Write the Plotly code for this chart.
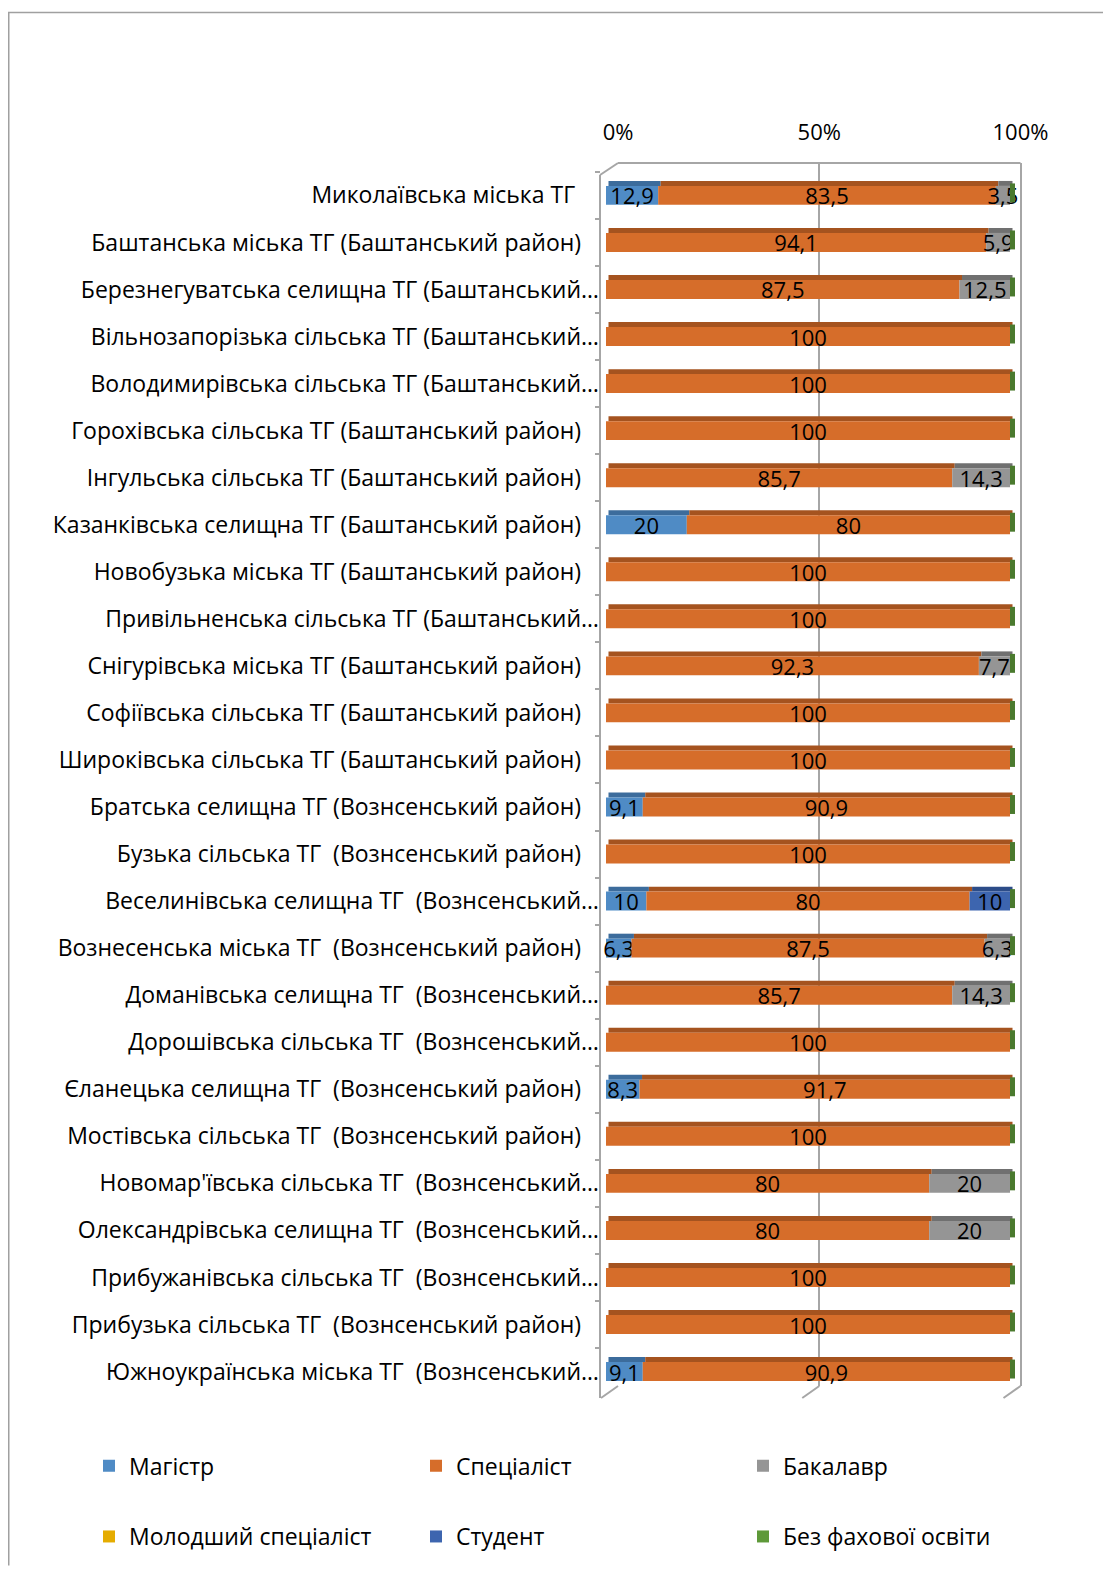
import plotly.graph_objects as go

NB = "\u00a0"
categories = [
    "Миколаївська міська ТГ" + NB * 4,
    "Баштанська міська ТГ (Баштанський район)" + NB * 3,
    "Березнегуватська селищна ТГ (Баштанський…",
    "Вільнозапорізька сільська ТГ (Баштанський…",
    "Володимирівська сільська ТГ (Баштанський…",
    "Горохівська сільська ТГ (Баштанський район)" + NB * 3,
    "Інгульська сільська ТГ (Баштанський район)" + NB * 3,
    "Казанківська селищна ТГ (Баштанський район)" + NB * 3,
    "Новобузька міська ТГ (Баштанський район)" + NB * 3,
    "Привільненська сільська ТГ (Баштанський…",
    "Снігурівська міська ТГ (Баштанський район)" + NB * 3,
    "Софіївська сільська ТГ (Баштанський район)" + NB * 3,
    "Широківська сільська ТГ (Баштанський район)" + NB * 3,
    "Братська селищна ТГ (Вознсенський район)" + NB * 3,
    "Бузька сільська ТГ  (Вознсенський район)" + NB * 3,
    "Веселинівська селищна ТГ  (Вознсенський…",
    "Вознесенська міська ТГ  (Вознсенський район)" + NB * 3,
    "Доманівська селищна ТГ  (Вознсенський…",
    "Дорошівська сільська ТГ  (Вознсенський…",
    "Єланецька селищна ТГ  (Вознсенський район)" + NB * 3,
    "Мостівська сільська ТГ  (Вознсенський район)" + NB * 3,
    "Новомар'ївська сільська ТГ  (Вознсенський…",
    "Олександрівська селищна ТГ  (Вознсенський…",
    "Прибужанівська сільська ТГ  (Вознсенський…",
    "Прибузька сільська ТГ  (Вознсенський район)" + NB * 3,
    "Южноукраїнська міська ТГ  (Вознсенський…",
]

magistr    = [12.9, 0, 0, 0, 0, 0, 0, 20, 0, 0, 0, 0, 0, 9.1, 0, 10, 6.3, 0, 0, 8.3, 0, 0, 0, 0, 0, 9.1]
specialist = [83.5, 94.1, 87.5, 100, 100, 100, 85.7, 80, 100, 100, 92.3, 100, 100, 90.9, 100, 80, 87.5, 85.7, 100, 91.7, 100, 80, 80, 100, 100, 90.9]
bakalavr   = [3.5, 5.9, 12.5, 0, 0, 0, 14.3, 0, 0, 0, 7.7, 0, 0, 0, 0, 0, 6.3, 14.3, 0, 0, 0, 20, 20, 0, 0, 0]
molodshyi  = [0] * 26
student    = [0, 0, 0, 0, 0, 0, 0, 0, 0, 0, 0, 0, 0, 0, 0, 10, 0, 0, 0, 0, 0, 0, 0, 0, 0, 0]
bez_osvity = [0] * 26

tick_vals = [0, 50, 100]
tick_text = ["0%", "50%", "100%"]

series = [
    ("Магістр", magistr, "#4F8BC5", "#3C6C9C"),
    ("Спеціаліст", specialist, "#D66D2A", "#A5531F"),
    ("Бакалавр", bakalavr, "#959595", "#707070"),
    ("Молодший спеціаліст", molodshyi, "#E5AC00", "#B08400"),
    ("Студент", student, "#3D65AF", "#2C4C88"),
    ("Без фахової освіти", bez_osvity, "#5E9939", "#4A7A2E"),
]

FONT = "Open Sans"
OFF = 8  # page offset of the figure div
W_FIG, H_FIG = 1111 - OFF, 1570 - OFF
# plot area in page pixels
L, R, T, B = 590, 1026, 163, 1390
PW, PH = R - L, B - T


def fx(px):
    return (px - L) / PW


def fy(py):
    return (B - py) / PH


CENTER0, STEP = 195.5, 47.2
y_range = [(B - CENTER0) / STEP, (T - CENTER0) / STEP]
FRONT_W = 19 / STEP
TOP_W = 5 / STEP
FRONT0, FRONT100 = 606, 1010
PX_PER_PCT = (FRONT100 - FRONT0) / 100
X2_MAX = (R - FRONT0) / PX_PER_PCT
DEPTH = 5 / PX_PER_PCT  # percent units (3D depth)
BACK0, BACK100 = 618, 1020.5
X1_MAX = 100 * (R - BACK0) / (BACK100 - BACK0)

n = len(categories)
totals = [sum(s[1][i] for s in series) for i in range(n)]


def fmt(v):
    if v == 0:
        return ""
    if float(v).is_integer():
        return str(int(v))
    return str(v).replace(".", ",")


fig = go.Figure()

# invisible trace to create the back-plane (grid) subplot
fig.add_trace(go.Scatter(x=[0, 100], y=[categories[0], categories[0]], xaxis="x", yaxis="y",
                         mode="markers", marker=dict(opacity=0), showlegend=False, hoverinfo="skip"))

cum = [0.0] * n
for idx, (name, vals, col, topcol) in enumerate(series):
    norm = [vals[i] / totals[i] * 100 for i in range(n)]
    base = cum[:]
    # top face
    fig.add_trace(go.Bar(
        y=categories, x=norm, base=[b + DEPTH / 2 for b in base], orientation="h",
        xaxis="x2", yaxis="y", width=TOP_W, offset=-FRONT_W / 2 - TOP_W,
        marker=dict(color=topcol, line=dict(width=0)), showlegend=False, hoverinfo="skip",
    ))
    # front face
    fig.add_trace(go.Bar(
        y=categories, x=norm, base=base, orientation="h", name=name,
        xaxis="x2", yaxis="y", width=FRONT_W, offset=-FRONT_W / 2,
        marker=dict(color=col, line=dict(width=0)),
        text=[fmt(v) for v in vals], textposition="inside", insidetextanchor="middle", textangle=0,
        textfont=dict(family=FONT, size=22, color="black"), constraintext="none",
        cliponaxis=False, hoverinfo="skip",
        legend="legend" if idx < 3 else "legend2",
    ))
    cum = [cum[i] + norm[i] for i in range(n)]

# right side face of the last series (3D end cap)
last_name, _, last_col, last_top = series[-1]
fig.add_trace(go.Bar(
    y=categories, x=[DEPTH] * n, base=cum, orientation="h",
    xaxis="x2", yaxis="y", width=FRONT_W, offset=-FRONT_W / 2 - TOP_W / 2,
    marker=dict(color=last_top, line=dict(width=0)), showlegend=False, hoverinfo="skip",
))

GRID = "#A6A6A6"
shapes = []
# outer chart border
shapes.append(dict(type="line", xref="paper", yref="paper", x0=fx(8), x1=fx(1111), y0=fy(12), y1=fy(12),
                   line=dict(color="#A0A0A0", width=1.5)))
shapes.append(dict(type="line", xref="paper", yref="paper", x0=fx(8.75), x1=fx(8.75), y0=fy(12), y1=fy(1570),
                   line=dict(color="#A0A0A0", width=1.5)))
# top back edge
shapes.append(dict(type="line", xref="paper", yref="paper", x0=fx(BACK0), x1=fx(BACK100), y0=1, y1=1,
                   line=dict(color=GRID, width=2)))
# left wall
shapes.append(dict(type="line", xref="paper", yref="paper", x0=fx(600), x1=fx(600), y0=fy(175), y1=fy(1402),
                   line=dict(color=GRID, width=2)))
shapes.append(dict(type="line", xref="paper", yref="paper", x0=fx(600), x1=fx(BACK0), y0=fy(175), y1=1,
                   line=dict(color=GRID, width=2)))
# floor diagonals at gridlines
for v in tick_vals:
    xp = fx(BACK0 + v / 100 * (BACK100 - BACK0))
    shapes.append(dict(type="line", xref="paper", yref="paper", x0=xp, x1=xp - 17 / PW, y0=0, y1=fy(1402),
                       line=dict(color=GRID, width=2)))

fig.update_layout(
    width=W_FIG, height=H_FIG,
    margin=dict(l=L - OFF, r=W_FIG - (R - OFF), t=T - OFF, b=H_FIG - (B - OFF)),
    paper_bgcolor="white", plot_bgcolor="rgba(0,0,0,0)",
    barmode="overlay",
    font=dict(family=FONT, size=22, color="black"),
    uniformtext=dict(minsize=22, mode="show"),
    shapes=shapes,
    xaxis=dict(domain=[fx(BACK0), 1.0], range=[0, X1_MAX], side="top", anchor="y",
               tickvals=tick_vals, ticktext=tick_text, showgrid=True, gridcolor=GRID, gridwidth=2,
               zeroline=False, showline=False, ticks="",
               tickfont=dict(family=FONT, size=22, color="black"), ticklabelstandoff=18, fixedrange=True),
    xaxis2=dict(domain=[fx(FRONT0), 1.0], range=[0, X2_MAX], anchor="y", visible=False, fixedrange=True),
    yaxis=dict(type="category", categoryorder="array", categoryarray=categories, range=y_range,
               anchor="free", position=fx(600), showline=False, showgrid=False, zeroline=False,
               ticks="outside", ticklen=5, tickcolor=GRID, tickwidth=2, tickson="boundaries",
               tickfont=dict(family=FONT, size=23, color="black"), ticklabelstandoff=1, fixedrange=True),
    legend=dict(orientation="h", x=fx(89), xanchor="left", y=fy(1470), yanchor="middle",
                entrywidth=282, entrywidthmode="pixels", font=dict(family=FONT, size=23, color="black"),
                bgcolor="rgba(0,0,0,0)", itemclick=False, itemdoubleclick=False),
    legend2=dict(orientation="h", x=fx(89), xanchor="left", y=fy(1541), yanchor="middle",
                 entrywidth=282, entrywidthmode="pixels", font=dict(family=FONT, size=23, color="black"),
                 bgcolor="rgba(0,0,0,0)", itemclick=False, itemdoubleclick=False),
    hovermode=False,
)

fig.write_html("out.html")
